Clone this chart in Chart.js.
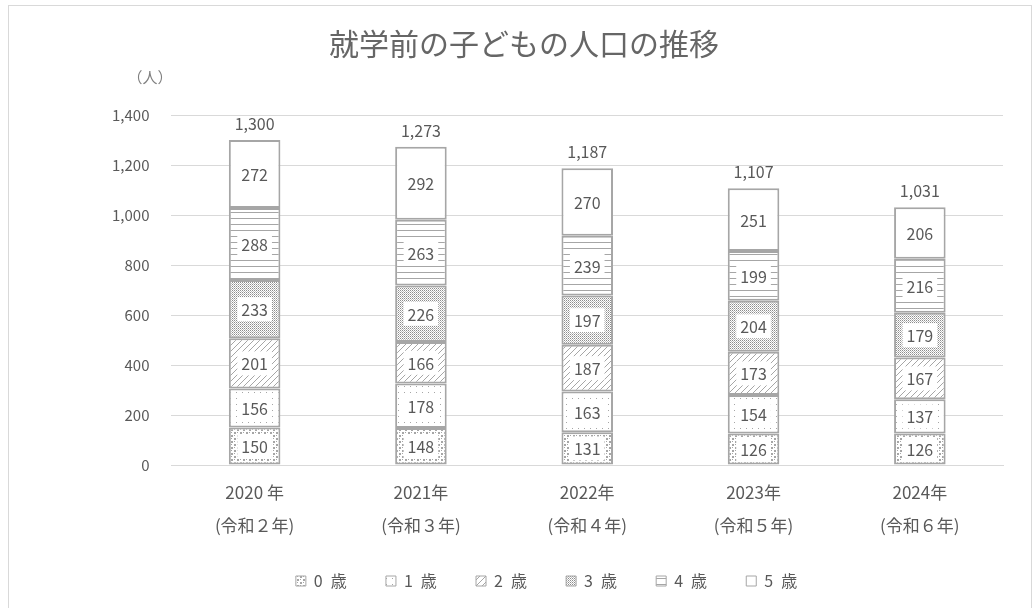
<!DOCTYPE html>
<html>
<head>
<meta charset="utf-8">
<script src="https://cdn.jsdelivr.net/npm/chart.js@4"></script>
<style>
  html, body { margin: 0; padding: 0; background: #fff; }
  #wrap { position: absolute; left: 8px; top: 5px; width: 1024px; height: 610px; border: 1px solid #d9d9d9; box-sizing: border-box; }
  canvas { position: absolute; left: 0; top: 0; }
</style>
</head>
<body>
<div id="wrap"></div>
<canvas id="c" width="1033" height="608"></canvas>
<script>
// 就学前の子どもの人口の推移
const YEARS = [['2020 年', '(令和２年)'], ['2021年', '(令和３年)'], ['2022年', '(令和４年)'], ['2023年', '(令和５年)'], ['2024年', '(令和６年)']];
const AGE_LABELS = ['0 歳', '1 歳', '2 歳', '3 歳', '4 歳', '5 歳'];
const AGE0 = [150, 148, 131, 126, 126];
const AGE1 = [156, 178, 163, 154, 137];
const AGE2 = [201, 166, 187, 173, 167];
const AGE3 = [233, 226, 197, 204, 179];
const AGE4 = [288, 263, 239, 199, 216];
const AGE5 = [272, 292, 270, 251, 206];
const Y_TICKS = [0, 200, 400, 600, 800, 1000, 1200, 1400];

const GREY = '#a6a6a6';
const TXT = '#595959';
const FONT = '"Noto Sans CJK JP", "Noto Sans", sans-serif';

function makePattern(kind) {
  const p = document.createElement('canvas');
  p.width = 6; p.height = 6;
  const g = p.getContext('2d');
  g.fillStyle = '#fff'; g.fillRect(0, 0, 6, 6);
  g.fillStyle = GREY; g.strokeStyle = GREY;
  if (kind === 'check') {
    g.fillRect(0, 0, 2, 2); g.fillRect(3, 3, 2, 2); g.fillRect(3, 0, 1, 1); g.fillRect(0, 3, 1, 1);
  } else if (kind === 'dots') {
    g.fillRect(2, 2, 1, 1);
  } else if (kind === 'hatch') {
    g.lineWidth = 1;
    g.beginPath(); g.moveTo(0, 6); g.lineTo(6, 0); g.stroke();
  } else if (kind === 'dense') {
    g.fillStyle = '#8c8c8c';
    for (let i = 0; i < 6; i += 2) for (let j = 0; j < 6; j += 2) g.fillRect(i, j, 1, 1);
    g.fillStyle = '#bfbfbf';
    for (let i = 1; i < 6; i += 2) for (let j = 1; j < 6; j += 2) g.fillRect(i, j, 1, 1);
  } else if (kind === 'hline') {
    g.fillRect(0, 2, 6, 1);
  }
  return kind === 'plain' ? '#fff' : g.createPattern(p, 'repeat');
}

const labelPlugin = {
  id: 'segLabels',
  afterDatasetsDraw(chart) {
    const ctx = chart.ctx;
    ctx.save();
    ctx.font = '16px ' + FONT;
    ctx.textAlign = 'center';
    ctx.textBaseline = 'middle';
    chart.data.datasets.forEach((ds, di) => {
      chart.getDatasetMeta(di).data.forEach((bar, i) => {
        const txt = String(ds.data[i]);
        const w = ctx.measureText(txt).width + 8;
        const cy = (bar.y + bar.base) / 2;
        ctx.fillStyle = '#fff';
        ctx.fillRect(bar.x - w / 2, cy - 12, w, 24);
        ctx.fillStyle = TXT;
        ctx.fillText(txt, bar.x, cy + 1);
      });
    });
    // totals
    const top = chart.getDatasetMeta(chart.data.datasets.length - 1).data;
    top.forEach((bar, i) => {
      const sum = chart.data.datasets.reduce((a, ds) => a + ds.data[i], 0);
      ctx.fillStyle = TXT;
      ctx.fillText(sum.toLocaleString('en-US'), bar.x, bar.y - 16);
    });
    // unit
    ctx.font = '15px ' + FONT;
    ctx.fillStyle = '#7f7f7f';
    ctx.fillText('（人）', 150, 77);
    ctx.restore();
  }
};

const kinds = ['check', 'dots', 'hatch', 'dense', 'hline', 'plain'];
const series = [AGE0, AGE1, AGE2, AGE3, AGE4, AGE5];

new Chart(document.getElementById('c'), {
  type: 'bar',
  data: {
    labels: YEARS,
    datasets: series.map((d, i) => ({
      label: AGE_LABELS[i],
      data: d,
      backgroundColor: makePattern(kinds[i]),
      borderColor: GREY,
      borderWidth: 2,
      borderSkipped: false,
      barPercentage: 0.31,
      categoryPercentage: 1.0,
    }))
  },
  options: {
    responsive: false,
    animation: false,
    devicePixelRatio: 1,
    layout: { padding: { left: 90, right: 30, top: 10, bottom: 9 } },
    plugins: {
      // trailing spaces nudge the centred title left, as in the source
      title: { display: true, text: '就学前の子どもの人口の推移\u3000\u2002', color: '#666', font: { family: FONT, size: 30, weight: 'normal' }, padding: { top: 16, bottom: 53 } },
      legend: {
        position: 'bottom',
        labels: {
          color: TXT, font: { family: FONT, size: 16 }, boxWidth: 10, boxHeight: 10, padding: 28,
          generateLabels: chart => Chart.defaults.plugins.legend.labels.generateLabels(chart).map((l, i, arr) => {
            l.text = l.text.replace(' ', '\u2002') + (i < arr.length - 1 ? '\u2002\u2009' : '');
            l.lineWidth = 1;
            return l;
          })
        }
      },
      tooltip: { enabled: false }
    },
    scales: {
      x: {
        stacked: true,
        grid: { display: false },
        border: { color: '#d9d9d9' },
        ticks: { color: TXT, font: { family: FONT, size: 17, lineHeight: 1.94 }, padding: 3 }
      },
      y: {
        stacked: true,
        min: 0, max: 1400,
        afterBuildTicks: s => { s.ticks = Y_TICKS.map(v => ({ value: v })); },
        grid: { color: '#d9d9d9', drawTicks: false },
        border: { display: false },
        ticks: { color: TXT, font: { family: FONT, size: 15 }, padding: 22, callback: v => v.toLocaleString('en-US') }
      }
    }
  },
  plugins: [labelPlugin]
});
</script>
</body>
</html>
